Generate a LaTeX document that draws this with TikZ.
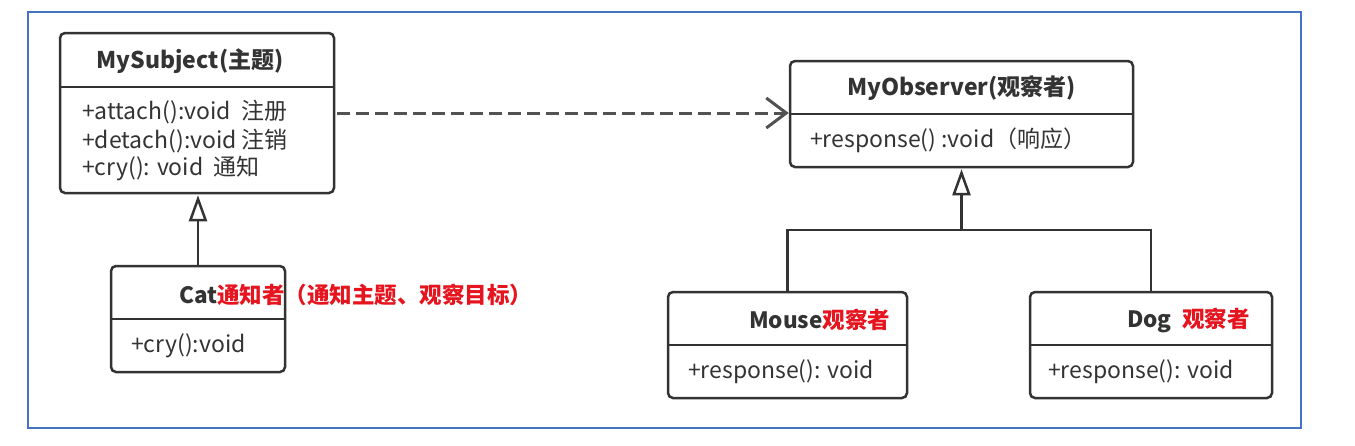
\documentclass[tikz,border=0pt]{standalone}
\usepackage{fontspec}
\setmainfont{Noto Sans CJK SC}
\usetikzlibrary{arrows.meta,calc}
\definecolor{frameblue}{RGB}{68,114,196}
\definecolor{ink}{RGB}{51,51,51}
\definecolor{mark}{RGB}{230,20,30}
\begin{document}
\begin{tikzpicture}[x=1pt,y=-1pt,
  cls/.style={draw=ink,line width=2.5pt,rounded corners=5pt,inner sep=0pt,fill=white},
  txt/.style={inner sep=0pt,anchor=west,text=ink,font=\fontsize{23}{27}\selectfont},
  ttl/.style={inner sep=0pt,text=ink,font=\fontsize{23}{27}\selectfont\bfseries},
  hdr/.style={inner sep=0pt,anchor=west,text=ink,font=\fontsize{22.5}{27}\selectfont\bfseries},
  divline/.style={draw=ink,line width=2.5pt},
  conn/.style={draw=ink,line width=2.5pt},
  gen/.style={conn,-{Triangle[open,length=26pt,width=18pt,line width=2.5pt]}},
  dep/.style={draw=ink!85,line width=3pt,dash pattern=on 13pt off 6pt,-{Straight Barb[length=20pt,width=30pt,line width=3pt]}}]
\useasboundingbox (0,0) rectangle (1355,445);
\draw[frameblue,line width=2pt] (28,12) rectangle (1301,428);

% MySubject
\node[cls,minimum width=274pt,minimum height=160pt] (subj) at (197,113) {};
\draw[divline] (subj.west |- 0,87) -- (subj.east |- 0,87);
\node[ttl] (subjT) at (190,61) {MySubject(主题)};
\node[txt] (subj1) at (82,112) {+attach():void\ \ 注册};
\node[txt] (subj2) at (82,141) {+detach():void 注销};
\node[txt] (subj3) at (82,169) {+cry(): void\ \ 通知};

% MyObserver
\node[cls,minimum width=343pt,minimum height=106pt] (obs) at (961.5,114) {};
\draw[divline] (obs.west) -- (obs.east);
\node[ttl] (obsT) at (961.5,88) {MyObserver(观察者)};
\node[txt] (obs1) at (810,140) {+response() :void（响应）};

% Cat
\node[cls,minimum width=174pt,minimum height=106pt] (cat) at (198,319) {};
\draw[divline] (cat.west) -- (cat.east);
\node[hdr] (catT) at (179,295) {Cat\textcolor{mark}{通知者（通知主题、观察目标）}};
\node[txt] (cat1) at (131,346) {+cry():void};

% Mouse
\node[cls,minimum width=239pt,minimum height=106pt] (mouse) at (787.5,345) {};
\draw[divline] (mouse.west) -- (mouse.east);
\node[hdr] (mouseT) at (749,320) {Mouse\textcolor{mark}{观察者}};
\node[txt] (mouse1) at (688,372) {+response(): void};

% Dog
\node[cls,minimum width=242pt,minimum height=106pt] (dog) at (1151,345) {};
\draw[divline] (dog.west) -- (dog.east);
\node[hdr] (dogT) at (1127,320) {Dog\ \ \textcolor{mark}{观察者}};
\node[txt] (dog1) at (1048,372) {+response(): void};

% connectors
\draw[dep] ($(subj.east)+(2,0)$) -- (obs.west |- subj.east);
\draw[gen] (cat.north) -- ($(cat.north |- subj.south)+(0,1)$);
\coordinate (junc) at (961.5,230);
\draw[conn] (mouse.north) |- (junc) -| (dog.north);
\draw[gen,line width=3.5pt] (junc) -- ($(obs.south)+(0,1)$);
\end{tikzpicture}
\end{document}
